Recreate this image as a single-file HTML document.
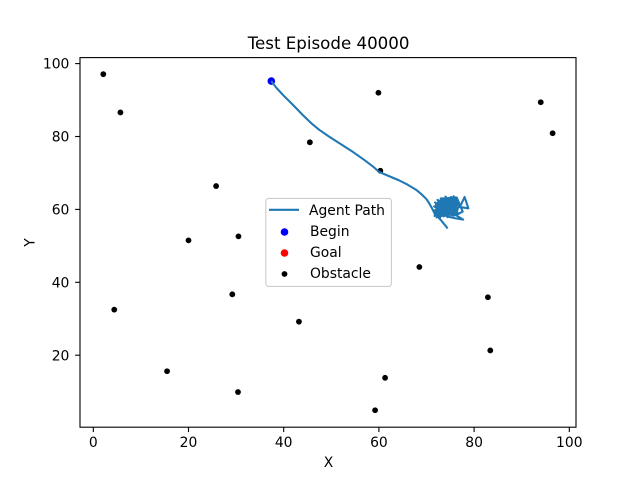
<!DOCTYPE html>
<html lang="en">
<head>
<meta charset="utf-8">
<title>Test Episode 40000</title>
<style>
html,body{margin:0;padding:0;background:#fff;}
svg{display:block;font-family:"DejaVu Sans","Liberation Sans",sans-serif;fill:#000;}
</style>
</head>
<body>
<svg id="chart" xmlns="http://www.w3.org/2000/svg" width="640" height="480" viewBox="0 0 640 480">
  <rect x="0" y="0" width="640" height="480" fill="#fff"/>
  <text x="328.6" y="49" font-size="16.67" text-anchor="middle">Test Episode 40000</text>
  <text x="328.5" y="467" font-size="13.89" text-anchor="middle">X</text>
  <text x="0" y="0" font-size="13.89" text-anchor="middle" transform="translate(34.5 242.5) rotate(-90)">Y</text>
  <g id="marks"></g>
  <g id="axes"></g>
  <g>
    <rect x="265.8" y="198.4" width="125.6" height="88" rx="2.8" fill="#fff" fill-opacity="0.8" stroke="#ccc" stroke-width="1.1"/>
    <line x1="269" y1="209.8" x2="299" y2="209.8" stroke="#1f77b4" stroke-width="2.08"/>
    <text x="309" y="214.8" font-size="13.89">Agent Path</text>
    <circle cx="284.5" cy="232" r="3.8" fill="#0000ff"/>
    <text x="310" y="235.8" font-size="13.89">Begin</text>
    <circle cx="284.5" cy="253" r="3.8" fill="#ff0000"/>
    <text x="310" y="256.8" font-size="13.89">Goal</text>
    <circle cx="284.5" cy="274" r="2.9" fill="#000"/>
    <text x="310" y="277.8" font-size="13.89">Obstacle</text>
  </g>
</svg>
<script>
const xTicks = [0, 20, 40, 60, 80, 100];
const yTicks = [20, 40, 60, 80, 100];
const obstacleX = [2.1, 5.7, 45.5, 59.9, 60.3, 94, 96.5, 25.8, 20, 30.5, 68.5, 4.4, 29.2, 43.2, 82.9, 83.4, 15.5, 30.4, 61.3, 59.2];
const obstacleY = [97.1, 86.6, 78.4, 92, 70.6, 89.4, 80.9, 66.4, 51.5, 52.6, 44.2, 32.5, 36.7, 29.2, 35.9, 21.3, 15.6, 9.9, 13.8, 4.9];
const beginPoint = [37.4, 95.2];
const goalPoint = [74.5, 60];
const pathX = [
  37.5, 38.5, 40, 42, 44, 46, 47.5, 49.5, 52, 54.5,
  57, 59, 60, 62, 64.2, 66, 67.8, 69, 70, 70.6,
  71.2, 71.8, 72.4, 71.7, 72.8, 72.1, 73.2, 72.5, 73.6, 72.8,
  73.9, 73.2, 74.3, 73.5, 74.6, 73.8, 75, 74.2, 75.3, 74.6,
  75.7, 75, 76, 75.3, 76.4, 75.6, 76.6, 74.8, 76.2, 72.2,
  75.8, 71.8, 75.4, 72, 74.9, 71.6, 75.1, 72.4, 76, 72.9,
  76.4, 72.3, 76.5, 72.6, 76.2, 73, 75.8, 72, 76.6, 73.6,
  75.2, 72.3, 76.7, 74, 76, 71.8, 74.4, 75.6, 73, 76.8,
  76.3, 73.4, 74.5, 72.7, 75.9, 73.1, 76.2, 77, 78, 78.8,
  77.2, 76.5, 77.6, 76.2, 77.7, 75.9, 74.6, 73.4, 72.2, 73.2,
  74.3
];
const pathY = [
  95, 93.3, 91.2, 88.6, 85.9, 83.4, 81.8, 80, 77.9, 75.8,
  73.5, 71.5, 70.3, 69.2, 68, 66.8, 65.4, 64.1, 62.8, 61.6,
  60.2, 58.6, 61.9, 58.2, 62.4, 57.8, 62.1, 58.4, 62.7, 57.5,
  62.3, 58.2, 63, 58.7, 62.4, 59, 63.2, 58.9, 62.6, 59.3,
  63.6, 59.1, 62.5, 59.6, 63.2, 59.4, 61.8, 60.1, 60.9, 60.6,
  61.5, 59.8, 60.4, 61.4, 61.9, 60.8, 58.9, 59.2, 60, 60.9,
  58.6, 62.6, 59.8, 58.2, 63.3, 62.9, 58.3, 59.4, 60.4, 58.1,
  63.4, 61, 58.8, 63.5, 58.5, 61.9, 57.9, 63.1, 63, 61.2,
  59.2, 59.8, 61.4, 59.6, 62.2, 61.3, 63, 60.6, 63.4, 60.3,
  60.6, 62.8, 59.4, 58.4, 57.2, 57.6, 58, 58.6, 58.2, 56.8,
  55
];

const svgNS = 'http://www.w3.org/2000/svg';
const axLeft = 80, axRight = 576, axTop = 57.6, axBottom = 427.2;
const sx = v => 93.3 + v * 4.76;
const sy = v => 428.1 - v * 3.645;
const marks = document.getElementById('marks');
const axes = document.getElementById('axes');

function make(tag, parent, props) {
  const el = document.createElementNS(svgNS, tag);
  for (const k in props) el.setAttribute(k, props[k]);
  parent.appendChild(el);
  return el;
}

const beginDot = make('circle', marks, {cx: sx(beginPoint[0]), cy: sy(beginPoint[1]), r: 3.8, fill: '#0000ff'});



const goalDot = make('circle', marks, {cx: sx(goalPoint[0]), cy: sy(goalPoint[1]), r: 3.8, fill: '#ff0000'});



obstacleX.forEach((v, i) => {
  const dot = make('circle', marks, {cx: sx(v), cy: sy(obstacleY[i]), r: 2.9, fill: '#000'});
  
  
});

const pathPoints = pathX.map((v, i) => sx(v).toFixed(2) + ',' + sy(pathY[i]).toFixed(2)).join(' ');
const agentPath = make('polyline', marks, {points: pathPoints, fill: 'none', stroke: '#1f77b4', 'stroke-width': 2.08, 'stroke-linejoin': 'round', 'stroke-linecap': 'square'});



const frame = make('rect', axes, {x: axLeft, y: axTop, width: axRight - axLeft, height: axBottom - axTop, fill: 'none', stroke: '#000', 'stroke-width': 1.1});



xTicks.forEach(v => {
  const tick = make('line', axes, {x1: sx(v), x2: sx(v), y1: axBottom, y2: axBottom + 4.86, stroke: '#000', 'stroke-width': 1.1});
  
  
  const label = make('text', axes, {x: sx(v), y: 447, 'font-size': 13.89, 'text-anchor': 'middle'});
  label.textContent = v;
  
  
});

yTicks.forEach(v => {
  const tick = make('line', axes, {x1: axLeft - 4.86, x2: axLeft, y1: sy(v), y2: sy(v), stroke: '#000', 'stroke-width': 1.1});
  
  
  const label = make('text', axes, {x: 69.4, y: sy(v) + 5.1, 'font-size': 13.89, 'text-anchor': 'end'});
  label.textContent = v;
  
  
});
</script>
</body>
</html>
